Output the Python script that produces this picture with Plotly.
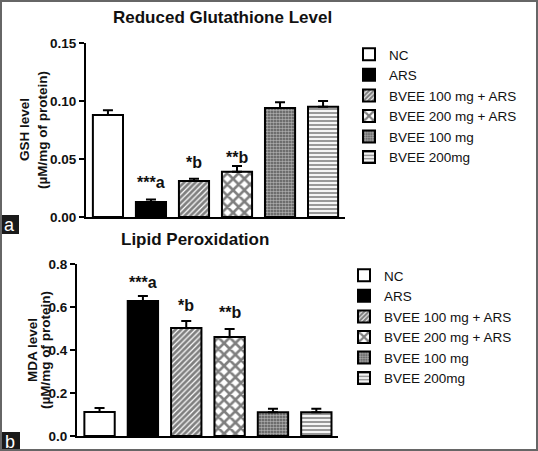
import plotly.graph_objects as go

# ---- data ----
categories = ["NC", "ARS", "BVEE 100 mg + ARS", "BVEE 200 mg + ARS", "BVEE 100 mg", "BVEE 200mg"]
gsh_values = [0.088, 0.013, 0.031, 0.039, 0.094, 0.095]
gsh_err = [0.004, 0.002, 0.002, 0.005, 0.005, 0.005]
gsh_labels = ["", "***a", "*b", "**b", "", ""]
mda_values = [0.112, 0.628, 0.502, 0.460, 0.110, 0.110]
mda_err = [0.018, 0.023, 0.033, 0.038, 0.017, 0.017]
mda_labels = ["", "***a", "*b", "**b", "", ""]
gsh_ticks = [0.00, 0.05, 0.10, 0.15]
mda_ticks = [0.0, 0.2, 0.4, 0.6, 0.8]

# ---- styles ----
FONT = "Liberation Sans, Arial, sans-serif"
INK = "#111111"
patterns = [
    dict(shape="", bgcolor="white"),
    dict(shape="", bgcolor="black"),
    dict(shape="/", bgcolor="white", fgcolor="black", size=4, solidity=0.7),
    dict(shape="x", bgcolor="white", fgcolor="black", size=8, solidity=0.55),
    dict(shape=".", bgcolor="#555555", fgcolor="white", size=3, solidity=0.55),
    dict(shape="-", bgcolor="white", fgcolor="#333333", size=4, solidity=0.55),
]
fills = ["white", "black", "white", "white", "#555555", "white"]
gsh_label_shift = [0, 7, 6, -2, 0, 0]
mda_label_shift = [0, 3, 5, 6, 0, 0]

W, H = 538, 451
def px_x(p):
    return p / W
def px_y(p):
    return 1 - p / H

fig = go.Figure()

for i, cat in enumerate(categories):
    fig.add_trace(go.Bar(
        x=[cat], y=[gsh_values[i]], name=cat, width=0.7,
        marker=dict(color=fills[i], line=dict(color="black", width=2), pattern=patterns[i]),
        error_y=dict(type="data", array=[gsh_err[i]], arrayminus=[0], symmetric=False,
                     color="black", thickness=2, width=5),
        xaxis="x", yaxis="y", legend="legend",
    ))
for i, cat in enumerate(categories):
    fig.add_trace(go.Bar(
        x=[cat], y=[mda_values[i]], name=cat, width=0.7,
        marker=dict(color=fills[i], line=dict(color="black", width=2), pattern=patterns[i]),
        error_y=dict(type="data", array=[mda_err[i]], arrayminus=[0], symmetric=False,
                     color="black", thickness=2, width=5),
        xaxis="x2", yaxis="y2", legend="legend2",
    ))

annotations = []
for i, lab in enumerate(gsh_labels):
    if lab:
        annotations.append(dict(x=categories[i], y=gsh_values[i] + gsh_err[i], xref="x", yref="y",
                                text=lab, showarrow=False, xanchor="center", yanchor="bottom",
                                yshift=gsh_label_shift[i],
                                font=dict(family=FONT, size=16, color=INK, weight="bold")))
for i, lab in enumerate(mda_labels):
    if lab:
        annotations.append(dict(x=categories[i], y=mda_values[i] + mda_err[i], xref="x2", yref="y2",
                                text=lab, showarrow=False, xanchor="center", yanchor="bottom",
                                yshift=mda_label_shift[i],
                                font=dict(family=FONT, size=16, color=INK, weight="bold")))

# titles
annotations.append(dict(x=px_x(222), y=px_y(17), xref="paper", yref="paper", text="Reduced Glutathione Level",
                        showarrow=False, xanchor="center", yanchor="middle",
                        font=dict(family=FONT, size=17, color=INK, weight="bold")))
annotations.append(dict(x=px_x(195), y=px_y(239), xref="paper", yref="paper", text="Lipid Peroxidation",
                        showarrow=False, xanchor="center", yanchor="middle",
                        font=dict(family=FONT, size=17, color=INK, weight="bold")))
# y-axis titles
for txt, xx, yy in [("GSH level", 24, 130), ("(µM/mg of protein)", 42, 130),
                    ("MDA level", 32, 350), ("(µM/mg of protein)", 45, 350)]:
    annotations.append(dict(x=px_x(xx), y=px_y(yy), xref="paper", yref="paper", text=txt, textangle=-90,
                            showarrow=False, xanchor="center", yanchor="middle",
                            font=dict(family=FONT, size=13.5, color=INK, weight="bold")))
# panel letters
for txt, x0, y0, x1, y1 in [("a", 0, 215, 19, 234), ("b", 0, 432, 20, 451)]:
    annotations.append(dict(x=px_x((x0 + x1) / 2), y=px_y((y0 + y1) / 2), xref="paper", yref="paper",
                            text=txt, showarrow=False, xanchor="center", yanchor="middle",
                            font=dict(family=FONT, size=18, color="white")))

shapes = [
    dict(type="rect", xref="paper", yref="paper", x0=px_x(0), x1=px_x(19), y0=px_y(234), y1=px_y(215),
         fillcolor="#1a1a1a", line=dict(width=0), layer="below"),
    dict(type="rect", xref="paper", yref="paper", x0=px_x(0), x1=px_x(20), y0=px_y(451), y1=px_y(432),
         fillcolor="#1a1a1a", line=dict(width=0), layer="below"),
    dict(type="rect", xref="paper", yref="paper", x0=px_x(1), x1=px_x(537), y0=px_y(450), y1=px_y(1),
         fillcolor="rgba(0,0,0,0)", line=dict(color="#666666", width=2), layer="above"),
]

axis_common = dict(showline=True, linecolor="black", linewidth=2, showgrid=False, zeroline=False,
                   automargin=False)
tickfont = dict(family=FONT, size=13.5, color=INK, weight="bold")
legfont = dict(family=FONT, size=13.5, color=INK)

fig.update_layout(
    width=W, height=H, margin=dict(l=0, r=0, t=0, b=0, pad=0, autoexpand=False),
    paper_bgcolor="white", plot_bgcolor="white",
    barmode="overlay", showlegend=True,
    xaxis=dict(domain=[px_x(86), px_x(345)], range=[-0.51, 5.51], anchor="y",
               showticklabels=False, ticks="", **axis_common),
    yaxis=dict(domain=[px_y(217), px_y(43)], range=[0, 0.15], anchor="x",
               tickvals=gsh_ticks, tickformat=".2f", ticks="outside", ticklen=5, tickwidth=2,
               tickcolor="black", tickfont=tickfont, **axis_common),
    xaxis2=dict(domain=[px_x(77), px_x(338)], range=[-0.52, 5.5], anchor="y2",
                showticklabels=False, ticks="", **axis_common),
    yaxis2=dict(domain=[px_y(436), px_y(264)], range=[0, 0.8], anchor="x2",
                tickvals=mda_ticks, tickformat=".1f", ticks="outside", ticklen=5, tickwidth=2,
                tickcolor="black", tickfont=tickfont, ticklabelstandoff=0, **axis_common),
    legend=dict(x=px_x(349), y=px_y(39), xanchor="left", yanchor="top",
                font=legfont, bgcolor="rgba(0,0,0,0)", tracegroupgap=0),
    legend2=dict(x=px_x(344), y=px_y(260), xanchor="left", yanchor="top",
                 font=legfont, bgcolor="rgba(0,0,0,0)", tracegroupgap=0),
    annotations=annotations, shapes=shapes,
)

fig.write_html("out.html", config={"displayModeBar": False},
               post_script="document.body.style.margin='0';")
